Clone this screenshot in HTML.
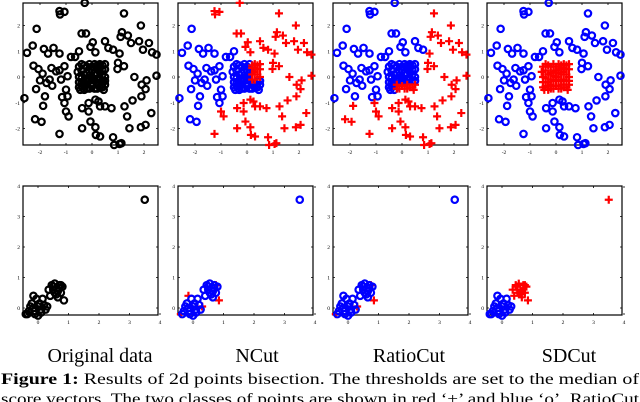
<!DOCTYPE html>
<html><head><meta charset="utf-8"><style>
html,body{margin:0;padding:0;background:#fff;width:640px;height:402px;overflow:hidden}
svg{display:block}
text{font-family:"Liberation Serif",serif}
</style></head><body>
<svg id="fig" width="640" height="402" viewBox="0 0 640 402" xmlns="http://www.w3.org/2000/svg">
<text x="100" y="362" font-size="20" text-anchor="middle">Original data</text>
<text x="257" y="362" font-size="20" text-anchor="middle">NCut</text>
<text x="409" y="362" font-size="20" text-anchor="middle">RatioCut</text>
<text x="569" y="362" font-size="20" text-anchor="middle">SDCut</text>
<text x="1" y="384" font-size="16" textLength="638" lengthAdjust="spacingAndGlyphs"><tspan font-weight="bold">Figure 1:</tspan> Results of 2d points bisection. The thresholds are set to the median of</text>
<text x="1" y="404" font-size="16" textLength="638" lengthAdjust="spacingAndGlyphs">score vectors. The two classes of points are shown in red ‘+’ and blue ‘o’. RatioCut</text>
</svg>
<script>
// top-row data (outer ring points)
const outerX=[-0.28,-1.25,-1.06,-1.23,1.23,-2.13,1.88,-0.4,-0.23,1.15,1.1,1.38,-2.28,-2.5,-1.85,-1.69,-1.48,-1.25,-0.5,-0.81,-0.65,0.03,-0.06,0.13,0.5,0.63,0.81,1.06,1.5,1.81,1.96,2.19,2.31,2.48,-2.25,-2.06,-1.9,-1.56,-1.38,-1.25,-1.06,-0.94,-1.19,-1.63,-1.75,-2.0,-2.15,-1.53,1.0,1.23,0.98,1.63,2.1,1.91,2.48,-2.6,-1.81,-1.88,-1.0,-1.15,-0.94,-1.06,-1.0,-0.9,-0.38,-0.13,-0.13,0.13,0.25,0.31,0.5,0.75,1.25,1.56,1.9,2.06,1.35,2.28,-2.19,-1.94,-1.25,-0.38,-0.06,0.13,0.15,0.31,0.81,0.85,1.06,1.13,1.44,1.88,2.06];
const outerY=[2.88,2.56,2.53,2.43,2.47,1.87,2.0,1.69,1.69,1.74,1.56,1.61,1.22,0.94,1.09,0.91,1.13,0.91,1.0,0.78,0.78,1.35,1.17,0.96,1.39,1.13,1.06,0.91,1.32,1.39,1.06,1.32,0.96,0.87,0.44,0.31,0.13,0.35,0.22,0.26,0.42,0.03,-0.1,-0.1,-0.23,-0.13,-0.47,-0.34,0.55,0.42,0.31,0,-0.13,-0.3,0.05,-0.82,-0.75,-1.12,-0.49,-0.78,-0.75,-1.01,-1.34,-1.53,-1.21,-1.34,-1.01,-0.88,-0.95,-1.14,-1.14,-1.21,-1.14,-0.91,-0.75,-0.47,-1.53,-1.4,-1.64,-1.74,-2.21,-1.99,-1.73,-1.95,-2.25,-2.31,-2.34,-2.64,-2.6,-2.57,-1.99,-1.95,-1.86];
// top-row dense central blob
const blobX=[-0.5,-0.5,-0.5,-0.3,-0.3,-0.3,-0.3,-0.1,-0.1,-0.1,-0.1,0.1,0.1,0.1,0.1,0.3,0.3,0.3,0.3,0.5,0.5,0.5,0.5,-0.55,-0.2,0.2,0.0,0.2,-0.4,0.4,-0.45,0.45,
 -0.4,-0.4,-0.4,-0.4,-0.2,-0.2,-0.2,-0.2,0.0,0.0,0.0,0.0,0.2,0.2,0.2,0.2,0.4,0.4,0.4,0.4,-0.5,0.5,-0.3,0.3,-0.1,0.1];
const blobY=[-0.4,0,0.4,-0.5,-0.2,0.1,0.45,-0.45,-0.15,0.2,0.5,-0.45,-0.15,0.15,0.5,-0.4,-0.1,0.2,0.5,-0.3,0,0.3,0.5,0.2,-0.3,0.35,0.0,-0.3,-0.2,0.1,-0.5,-0.5,
 -0.35,-0.05,0.25,0.5,-0.45,-0.1,0.15,0.4,-0.35,-0.1,0.25,0.4,-0.45,-0.1,0.1,0.45,-0.4,-0.15,0.3,0.45,-0.2,-0.15,-0.35,0.35,0.05,0.3];
// bottom-row data
const botX=[-0.3,-0.2,-0.1,0,0.1,0.2,-0.05,0.15,-0.25,0.0,0.25,-0.35,0.4,0.5,0.6,0.7,0.55,0.75,0.45,0.65,0.8,0.35,-0.4,0.3,0.85,-0.15,0.75,3.5,-0.15,0.05,0.1,-0.1,0.55,0.65,0.5,0.7];
const botY=[-0.1,0.15,-0.2,0.05,-0.15,0.1,0.3,0.3,0.05,-0.25,-0.05,-0.2,0.4,0.6,0.45,0.65,0.8,0.5,0.75,0.35,0.7,0.6,-0.2,0.05,0.25,0.4,0.75,3.55,0.0,0.15,-0.05,-0.1,0.5,0.55,0.7,0.75];
const botLabels=[
 "kkkkkkkkkkkkkkkkkkkkkkkkkkkkkkkkkkkk",
 "bbbbbbbbbbbbbbbbbbbbbbrrrrrbbbbbbbbb",
 "bbbbbbbbbbbbbbbbbbbbbbrrrbrbbbbbbbbb",
 "bbbbbbbbbbbbrrrrrrrrrrbbrbrrbbbbrrrr"];
const topTicks=[-2,-1,0,1,2];
const botTicks=[0,1,2,3,4];
const panelX=[23,178,333,487];
const W=135;
const NS="http://www.w3.org/2000/svg";
const svg=document.getElementById('fig');
function mk(t,a,p){const e=document.createElementNS(NS,t);for(const k in a)e.setAttribute(k,a[k]);(p||svg).appendChild(e);return e;}
const COL={k:'#000',b:'#0000ff',r:'#ff0000'};
function marker(g,x,y,c){
  if(c==='r'){
    const p=mk('path',{d:`M${x-4},${y}H${x+4}M${x},${y-4}V${y+4}`,stroke:COL.r,'stroke-width':2.2,fill:'none'},g);
    
    
  } else {
    const e=mk('circle',{cx:x,cy:y,r:3.2,stroke:COL[c],'stroke-width':2.2,fill:'none'},g);
    
    
  }
}
function axes(g,x0,y0,h,sx,sy,xt,yt){
  const r=mk('rect',{x:x0,y:y0,width:W,height:h,fill:'none',stroke:'#000','stroke-width':1.2},g);
  
  
  xt.forEach(v=>{const px=sx(v);
    mk('path',{d:`M${px},${y0+h}v-2M${px},${y0}v2`,stroke:'#000','stroke-width':0.8},g);
    const t=mk('text',{x:px,y:y0+h+9,'font-size':5.5,'text-anchor':'middle'},g);t.textContent=v;
    
    });
  yt.forEach(v=>{const py=sy(v);
    mk('path',{d:`M${x0},${py}h2M${x0+W},${py}h-2`,stroke:'#000','stroke-width':0.8},g);
    const t=mk('text',{x:x0-3,y:py+2,'font-size':5.5,'text-anchor':'end'},g);t.textContent=v;
    
    });
}
for(let p=0;p<4;p++){
  const x0=panelX[p];
  const g=mk('g',{});
  
  
  const sx=v=>x0+69+v*26, sy=v=>77-v*25.75;
  axes(g,x0,3,142,sx,sy,topTicks,topTicks);
  const outerCls=i=>{const x=outerX[i],y=outerY[i];
    if(p===0)return 'k'; if(p===3)return 'b';
    if(p===1)return (x<-1.8||(x<-0.45&&y>-1.2&&y<1.5))?'b':'r';
    return (x<0.9&&y>-0.86)?'b':'r';};
  const blobCls=i=>{const x=blobX[i],y=blobY[i];
    if(p===0)return 'k'; if(p===3)return 'r';
    if(p===1)return (x>0.1&&y>-0.15)?'r':'b';
    return (y<-0.15&&x>-0.3)?'r':'b';};
  outerX.forEach((v,i)=>marker(g,sx(v),sy(outerY[i]),outerCls(i)));
  blobX.forEach((v,i)=>{if(blobCls(i)!=='r')marker(g,sx(v),sy(blobY[i]),blobCls(i));});
  blobX.forEach((v,i)=>{if(blobCls(i)==='r')marker(g,sx(v),sy(blobY[i]),'r');});
  const g2=mk('g',{});
  
  
  const bx=v=>x0+15+v*30.5, by=v=>308-v*30.5;
  axes(g2,x0,186,129,bx,by,botTicks,botTicks);
  const lab=botLabels[p];
  botX.forEach((v,i)=>{if(lab[i]==='r')marker(g2,bx(v),by(botY[i]),'r');});
  botX.forEach((v,i)=>{if(lab[i]!=='r')marker(g2,bx(v),by(botY[i]),lab[i]);});
}
</script>
</body></html>
